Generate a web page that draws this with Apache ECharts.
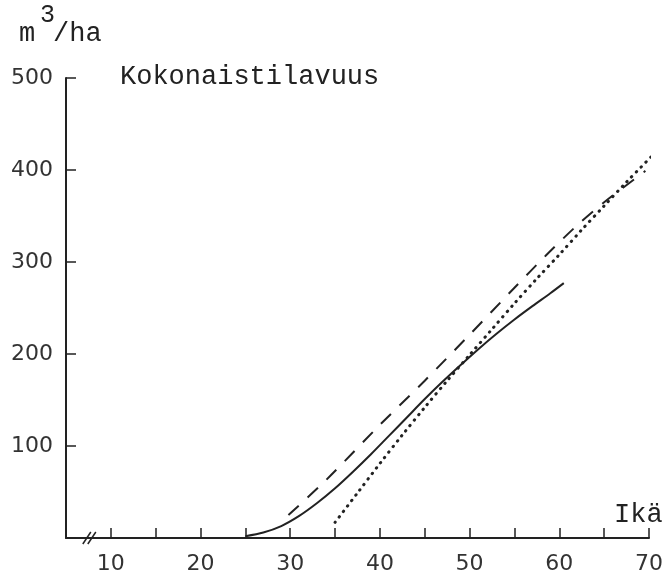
<!DOCTYPE html>
<html>
<head>
<meta charset="utf-8">
<script src="https://cdn.jsdelivr.net/npm/echarts@6/dist/echarts.min.js"></script>
<style>
  html, body { margin: 0; padding: 0; background: #fff; }
  #chart { width: 665px; height: 575px; }
</style>
</head>
<body>
<div id="chart"></div>
<script>
// Total stand volume (m3/ha) against stand age, three curves
const xTicks = [10, 20, 30, 40, 50, 60, 70];
const yTicks = [100, 200, 300, 400, 500];

const solidAge = [25, 27, 29, 31, 33, 35, 37, 39, 41, 43, 45, 47, 49, 51, 53, 55, 57, 59, 60.5];
const solidVol = [2, 6, 13, 24, 38, 54, 72, 91, 111, 131, 151, 170, 188, 205.5, 222, 237.5, 252, 266, 277];

const dashedAge = [29.8, 34, 40, 45, 50, 55, 58.5, 62, 65, 69.6];
const dashedVol = [25, 63, 123, 171, 221, 272, 307, 340, 365, 399];

const dottedAge = [35, 37.5, 40, 42.5, 45, 47.5, 50, 52.5, 55, 57.5, 60, 62.5, 65, 67.5, 70.2];
const dottedVol = [17, 49, 81, 112, 142, 171, 199, 227, 255, 282, 308, 335, 361, 387, 414];

// position of the axis break marker on the age axis
const breakAt = [7.6, 0];

const pairs = (xs, ys) => xs.map((x, i) => [x, ys[i]]);

const ink = '#222';
const numFont = '"DejaVu Sans", sans-serif';
const typeFont = '"Liberation Mono", "DejaVu Sans Mono", monospace';

const chart = echarts.init(document.getElementById('chart'), null, { renderer: 'canvas' });

const label = (text, left, top, size) => ({
  type: 'text',
  left: left,
  top: top,
  style: { text: text, fill: ink, font: size + 'px ' + typeFont }
});

chart.setOption({
  animation: false,
  backgroundColor: '#fff',
  grid: { left: 66, right: 16, top: 78, bottom: 37, outerBoundsMode: 'none', containLabel: false },
  xAxis: {
    type: 'value',
    min: 5,
    max: 70,
    interval: 5,
    axisLine: { lineStyle: { color: ink, width: 2 } },
    axisTick: { inside: true, length: 10, lineStyle: { color: ink, width: 1.5 } },
    splitLine: { show: false },
    axisLabel: {
      margin: 15,
      color: '#333',
      fontFamily: numFont,
      fontSize: 22,
      formatter: v => (xTicks.includes(v) ? String(v) : '')
    }
  },
  yAxis: {
    type: 'value',
    min: 0,
    max: 500,
    interval: 100,
    axisLine: { show: true, lineStyle: { color: ink, width: 2 } },
    axisTick: { show: true, inside: true, length: 10, lineStyle: { color: ink, width: 1.5 } },
    splitLine: { show: false },
    axisLabel: {
      margin: 13,
      color: '#333',
      fontFamily: numFont,
      fontSize: 22,
      formatter: v => (yTicks.includes(v) ? String(v) : '')
    }
  },
  graphic: [
    label('m', 19, 20, 27),
    label('3', 40, 3, 25),
    label('/ha', 53, 20, 27),
    label('Kokonaistilavuus', 120, 63, 27),
    label('Ikä', 614, 501, 27)
  ],
  series: [
    {
      name: 'solid',
      type: 'line',
      data: pairs(solidAge, solidVol),
      smooth: 0.3,
      showSymbol: false,
      lineStyle: { color: ink, width: 2 }
    },
    {
      name: 'dashed',
      type: 'line',
      data: pairs(dashedAge, dashedVol),
      smooth: 0.3,
      showSymbol: false,
      lineStyle: { color: ink, width: 2, type: [14, 12] }
    },
    {
      name: 'dotted',
      type: 'line',
      data: pairs(dottedAge, dottedVol),
      smooth: 0.3,
      showSymbol: false,
      lineStyle: { color: ink, width: 3, type: [0.5, 6.3], cap: 'round' }
    },
    {
      name: 'break',
      type: 'custom',
      silent: true,
      data: [breakAt],
      renderItem: (params, api) => {
        const p = api.coord([api.value(0), api.value(1)]);
        const mk = dx => ({
          type: 'line',
          shape: { x1: p[0] + dx - 4, y1: p[1] + 6, x2: p[0] + dx + 4, y2: p[1] - 6 },
          style: { stroke: ink, lineWidth: 1.5 }
        });
        return { type: 'group', children: [mk(-2.5), mk(2.5)] };
      }
    }
  ]
});
</script>
</body>
</html>
